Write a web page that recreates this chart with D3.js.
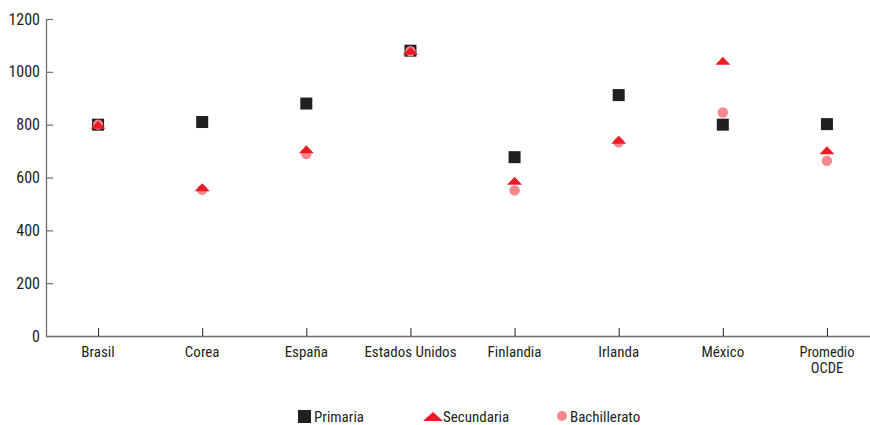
<!DOCTYPE html>
<html>
<head>
<meta charset="utf-8">
<script src="https://cdn.jsdelivr.net/npm/d3@7"></script>
<style>
  body { margin: 0; background: #fff; }
  text { font-family: "Liberation Sans Narrow", "Roboto Condensed", "Arial Narrow", sans-serif; fill: #231f20; }
</style>
</head>
<body>
<div id="chart"></div>
<script>
// data
var paises = ["Brasil", "Corea", "España", "Estados Unidos", "Finlandia", "Irlanda", "México", "Promedio OCDE"];
var primaria = [800, 810, 880, 1080, 677, 912, 800, 802];
var secundaria = [800, 563, 707, 1080, 588, 743, 1042, 703];
var bachillerato = [800, 553, 689, 1078, 551, 733, 846, 663];
var yTicks = [0, 200, 400, 600, 800, 1000, 1200];

var width = 870, height = 425;

var svg = d3.select("#chart")
  .append("svg")
    .attr("width", width)
    .attr("height", height);

// scales
var x = d3.scalePoint()
    .domain(paises)
    .range([46, 879])
    .padding(0.5);

var y = d3.scaleLinear()
    .domain([0, 1200])
    .range([336, 19]);

/*********************
 * AXES
 *********************/
var yAxis = svg.append("g")
    .attr("transform", "translate(46,0)")
    .call(d3.axisRight(y).tickValues(yTicks).tickFormat(d3.format("d")).tickSize(7).tickSizeOuter(0));
yAxis.select(".domain").attr("stroke", "#6d6e71").attr("stroke-width", 1.3);
yAxis.selectAll(".tick line").attr("stroke", "#6d6e71").attr("stroke-width", 1.2);
yAxis.selectAll(".tick text")
    .attr("x", -6)
    .attr("text-anchor", "end")
    .style("font-size", "16px");

var xAxis = svg.append("g")
    .attr("transform", "translate(0,336)")
    .call(d3.axisTop(x).tickSize(8).tickSizeOuter(0).tickFormat(""));
xAxis.select(".domain").attr("stroke", "#6d6e71").attr("stroke-width", 1.3);
xAxis.selectAll(".tick line").attr("stroke", "#231f20").attr("stroke-width", 1);

// category labels; the last one wraps on two lines
var lines = function(d) { return d == "Promedio OCDE" ? ["Promedio", "OCDE"] : [d]; };
var labels = [];
paises.forEach(function(p) {
  lines(p).forEach(function(l, k) { labels.push({ pais: p, txt: l, k: k }); });
});

svg.selectAll(".xlabel")
  .data(labels)
  .enter()
  .append("text")
    .attr("class", "xlabel")
    .attr("text-anchor", "middle")
    .attr("x", function(d) { return x(d.pais); })
    .attr("y", function(d) { return 357 + d.k * 16; })
    .style("font-size", function(d) { return lines(d.pais).length > 1 ? "14.5px" : "15px"; })
    .text(function(d) { return d.txt; });

/*********************
 * MARKS
 *********************/
var colPrim = "#231f20", colSec = "#ed1c24", colBach = "#f4898d";

var tri = function(cx, cy) {
  return "M" + (cx - 7.5) + "," + (cy + 4) + "L" + cx + "," + (cy - 4) + "L" + (cx + 7.5) + "," + (cy + 4) + "Z";
};

svg.selectAll(".prim")
  .data(primaria)
  .enter()
  .append("rect")
    .attr("class", "prim")
    .attr("x", function(d, i) { return x(paises[i]) - 6; })
    .attr("y", function(d) { return y(d) - 6; })
    .attr("width", 12)
    .attr("height", 12)
    .style("fill", colPrim);

svg.selectAll(".bach")
  .data(bachillerato)
  .enter()
  .append("circle")
    .attr("class", "bach")
    .attr("cx", function(d, i) { return x(paises[i]); })
    .attr("cy", function(d) { return y(d); })
    .attr("r", 5.2)
    .style("fill", colBach);

svg.selectAll(".sec")
  .data(secundaria)
  .enter()
  .append("path")
    .attr("class", "sec")
    .attr("d", function(d, i) { return tri(x(paises[i]), y(d)); })
    .style("fill", colSec);

/*********************
 * LEGEND
 *********************/
var lg = svg.append("g").attr("transform", "translate(0,417)");
lg.append("rect").attr("x", 298).attr("y", -7).attr("width", 13).attr("height", 13).style("fill", colPrim);
lg.append("text").attr("x", 314).attr("y", 5).style("font-size", "15px").text("Primaria");
lg.append("path").attr("d", "M423,4L433,-5L443,4Z").style("fill", colSec);
lg.append("text").attr("x", 443).attr("y", 5).style("font-size", "15px").text("Secundaria");
lg.append("circle").attr("cx", 562).attr("cy", -1).attr("r", 5).style("fill", colBach);
lg.append("text").attr("x", 570).attr("y", 5).style("font-size", "15px").text("Bachillerato");
</script>
</body>
</html>
